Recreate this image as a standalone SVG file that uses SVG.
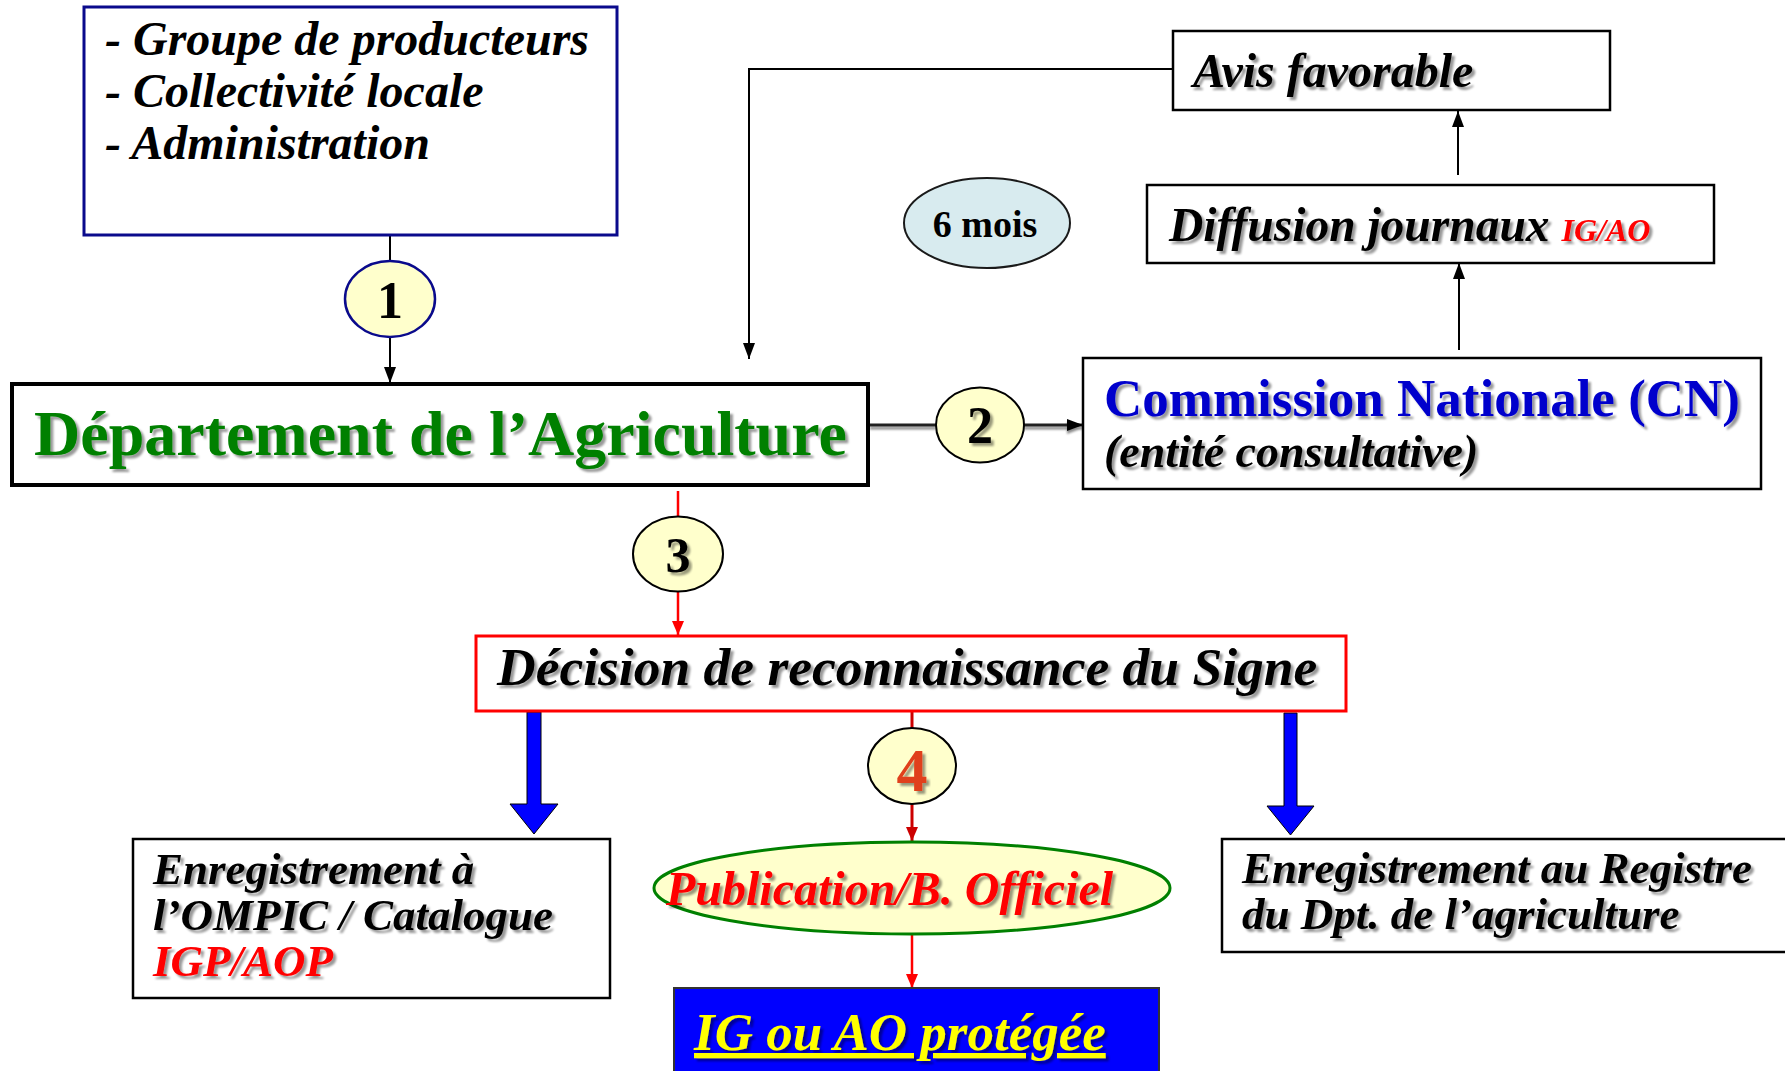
<svg xmlns="http://www.w3.org/2000/svg" width="1785" height="1071" viewBox="0 0 1785 1071">
<style>
.bi{font-family:"Liberation Serif","Times New Roman",serif;font-weight:bold;font-style:italic;}
.b{font-family:"Liberation Serif","Times New Roman",serif;font-weight:bold;}
.box{fill:#fff;stroke:#000;stroke-width:2.5;}
.circ{fill:#FFFFCC;stroke:#000;stroke-width:2;}
.sh{filter:url(#sh);}
.blk{fill:none;stroke:#000;stroke-width:2;}
.thick{fill:none;stroke:#222;stroke-width:3;filter:url(#lsh);}
.red{fill:none;stroke:#FF0000;stroke-width:2.5;}
.dred{fill:none;stroke:#CC0000;stroke-width:3;}
.blue{fill:#0000FF;stroke:#000;stroke-width:1;}
</style>
<defs>
<filter id="sh" x="-5%" y="-20%" width="115%" height="150%">
<feDropShadow dx="3" dy="3" stdDeviation="1.3" flood-color="#000" flood-opacity="0.4"/>
</filter>
<filter id="lsh" filterUnits="userSpaceOnUse" x="0" y="0" width="1785" height="1071">
<feDropShadow dx="0" dy="3" stdDeviation="1" flood-color="#000" flood-opacity="0.45"/>
</filter>
<marker id="ab" markerUnits="userSpaceOnUse" markerWidth="16" markerHeight="12" refX="16" refY="6" orient="auto">
<path d="M0,0 L16,6 L0,12 z" fill="#000"/>
</marker>
<marker id="ar" markerUnits="userSpaceOnUse" markerWidth="14" markerHeight="12" refX="14" refY="6" orient="auto">
<path d="M0,0 L14,6 L0,12 z" fill="#FF0000"/>
</marker>
<marker id="adr" markerUnits="userSpaceOnUse" markerWidth="14" markerHeight="12" refX="14" refY="6" orient="auto">
<path d="M0,0 L14,6 L0,12 z" fill="#CC0000"/>
</marker>
</defs>
<rect width="1785" height="1071" fill="#fff"/>

<g id="connectors">
<line class="blk" x1="390" y1="217" x2="390" y2="261"/>
<line class="blk" x1="390" y1="337" x2="390" y2="383" marker-end="url(#ab)"/>
<polyline class="blk" points="1173,69 749,69 749,359" marker-end="url(#ab)"/>
<line class="thick" x1="870" y1="425" x2="936" y2="425"/>
<line class="thick" x1="1024" y1="425" x2="1083" y2="425" marker-end="url(#ab)"/>
<line class="blk" x1="1459" y1="350" x2="1459" y2="263" marker-end="url(#ab)"/>
<line class="blk" x1="1458" y1="175" x2="1458" y2="111" marker-end="url(#ab)"/>
<line class="red" x1="678" y1="491" x2="678" y2="516"/>
<line class="red" x1="678" y1="592" x2="678" y2="635" marker-end="url(#ar)"/>
<line class="dred" x1="912" y1="704" x2="912" y2="728"/>
<line class="dred" x1="912" y1="804" x2="912" y2="841" marker-end="url(#adr)"/>
<line class="red" x1="912" y1="934" x2="912" y2="988" marker-end="url(#ar)"/>
<polygon class="blue" points="527,712 541,712 541,804 558,804 534,834 510,804 527,804"/>
<polygon class="blue" points="1284,713 1297,713 1297,806 1314,806 1290.5,835 1267,806 1284,806"/>
</g>

<g id="n-demandeurs">
<rect x="84" y="7" width="533" height="228" fill="#fff" stroke="#0A0A8C" stroke-width="3"/>
<text class="bi" font-size="48" x="105" y="55">- Groupe de producteurs</text>
<text class="bi" font-size="48" x="105" y="107">- Collectivité locale</text>
<text class="bi" font-size="48" x="105" y="159">- Administration</text>
</g>

<g id="n-c1">
<ellipse cx="390" cy="299" rx="45" ry="38" fill="#FFFFCC" stroke="#0A0A8C" stroke-width="2.5"/>
<text class="b" font-size="52" x="390" y="318" text-anchor="middle">1</text>
</g>

<g id="n-departement">
<rect x="12" y="384" width="856" height="101" fill="#fff" stroke="#000" stroke-width="4"/>
<text class="b sh" font-size="64" x="34" y="455" fill="#008000">Département de l’Agriculture</text>
</g>

<g id="n-c2">
<ellipse class="circ" cx="980" cy="425" rx="44" ry="37.5"/>
<text class="b sh" font-size="52" x="980" y="443" text-anchor="middle">2</text>
</g>

<g id="n-cn">
<rect class="box" x="1083" y="358" width="678" height="131"/>
<text class="b sh" font-size="53" x="1104" y="416" fill="#0000CC">Commission Nationale (CN)</text>
<text class="bi sh" font-size="46" x="1104" y="467">(entité consultative)</text>
</g>

<g id="n-diffusion">
<rect class="box" x="1147" y="185" width="567" height="78"/>
<text class="bi sh" font-size="47.5" x="1169" y="241">Diffusion journaux <tspan font-size="32" fill="#FF0000">IG/AO</tspan></text>
</g>

<g id="n-avis">
<rect class="box" x="1173" y="31" width="437" height="79"/>
<text class="bi sh" font-size="48" x="1193" y="87">Avis favorable</text>
</g>

<g id="n-6mois">
<ellipse cx="987" cy="223" rx="83" ry="45" fill="#D8EBEF" stroke="#1a1a1a" stroke-width="2"/>
<text class="b" font-size="38" x="985" y="237" text-anchor="middle">6 mois</text>
</g>

<g id="n-c3">
<ellipse class="circ" cx="678" cy="554" rx="45" ry="37.5"/>
<text class="b sh" font-size="50" x="678" y="572" text-anchor="middle">3</text>
</g>

<g id="n-decision">
<rect x="476" y="636" width="870" height="75" fill="#fff" stroke="#FF0000" stroke-width="3"/>
<text class="bi sh" font-size="53.5" x="497" y="685">Décision de reconnaissance du Signe</text>
</g>

<g id="n-c4">
<ellipse class="circ" cx="912" cy="766" rx="44" ry="38"/>
<text class="b sh" font-size="62" x="912" y="791" text-anchor="middle" fill="#E0401A">4</text>
</g>

<g id="n-publication">
<ellipse cx="912" cy="888" rx="258" ry="46" fill="#FFFFCC" stroke="#008000" stroke-width="3"/>
<text class="bi sh" font-size="48" x="666" y="905" fill="#FF0000">Publication/B. Officiel</text>
</g>

<g id="n-protegee">
<rect x="674" y="988" width="485" height="90" fill="#0000FF" stroke="#333" stroke-width="2"/>
<text class="bi sh" font-size="53" x="694" y="1050" fill="#FFFF00" text-decoration="underline">IG ou AO protégée</text>
</g>

<g id="n-ompic">
<rect class="box" x="133" y="839" width="477" height="159"/>
<text class="bi sh" font-size="45" x="153" y="884">Enregistrement à</text>
<text class="bi sh" font-size="45" x="153" y="930">l’OMPIC / Catalogue</text>
<text class="bi sh" font-size="45" x="153" y="976" fill="#FF0000">IGP/AOP</text>
</g>

<g id="n-registre">
<rect class="box" x="1222" y="839" width="600" height="113"/>
<text class="bi sh" font-size="45" x="1242" y="883">Enregistrement au Registre</text>
<text class="bi sh" font-size="45" x="1242" y="929">du Dpt. de l’agriculture</text>
</g>
</svg>
